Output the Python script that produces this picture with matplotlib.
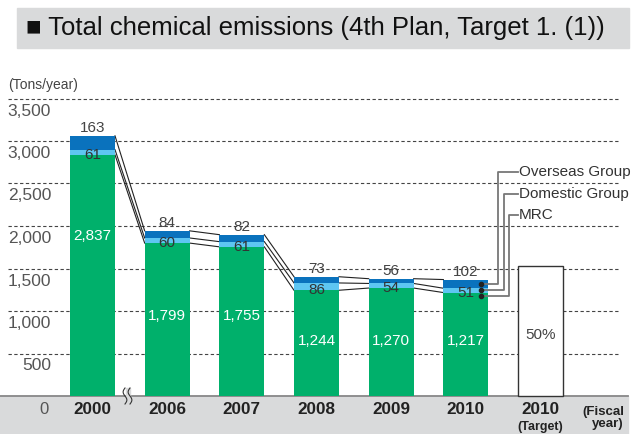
import numpy as np
import matplotlib.pyplot as plt
from matplotlib.patches import Rectangle

plt.rcParams['font.family'] = ['Liberation Sans', 'DejaVu Sans']

# data (tons/year)
years = ["2000", "2006", "2007", "2008", "2009", "2010"]
mrc = [2837, 1799, 1755, 1244, 1270, 1217]
domestic = [61, 60, 61, 86, 54, 51]
overseas = [163, 84, 82, 73, 56, 102]
target_year = "2010"
target_value = 1530
target_text = "50%"
yticks = [500, 1000, 1500, 2000, 2500, 3000, 3500]
series_names = ["Overseas Group", "Domestic Group", "MRC"]

GREEN = "#00b06b"
LBLUE = "#5ec6f2"
BLUE = "#0a72bd"
GRAY = "#d9dadb"

W, H = 633, 434
fig = plt.figure(figsize=(W / 100, H / 100), dpi=100)
ax = fig.add_axes([0, 0, 1, 1])
ax.axis("off")

# pixel layout helpers
x0, step = 92.5, 74.67
zero_px, k = 396, 0.085
ax.set_xlim(-x0 / step, (W - x0) / step)
ax.set_ylim(-(H - zero_px) / k, zero_px / k)


def px2x(p):
    return (p - x0) / step


def px2y(p):
    return (zero_px - p) / k


# title banner
fig.patches.append(Rectangle((17 / W, 1 - 48 / H), 612 / W, 40 / H,
                             transform=fig.transFigure, color=GRAY, zorder=0))
fig.text(26 / W, 1 - 28.5 / H, "\u25a0 Total chemical emissions (4th Plan, Target 1. (1))",
         fontsize=18.5, va="center", ha="left", color="#111")

# grid + y labels
for t in yticks:
    ax.plot([px2x(8), px2x(620)], [t, t], color="#444", lw=0.8,
            dashes=(3, 2.2), zorder=1)
    ax.text(px2x(51), t - 12.5 / k, f"{t:,}", ha="right", va="center",
            fontsize=12.5, color="#555")
ax.text(px2x(49), px2y(410), "0", ha="right", va="center", fontsize=12, color="#555")
ax.text(px2x(8), px2y(85), "(Tons/year)", ha="left", va="center", fontsize=10, color="#444")

# bottom band
ax.add_patch(Rectangle((px2x(0), px2y(H)), 628 / step, (H - zero_px) / k,
                       color=GRAY, zorder=1))
ax.plot([px2x(0), px2x(628)], [0, 0], color="#888", lw=1.3, zorder=2)

# bars
x = np.arange(len(years))
mrc_a = np.array(mrc)
dom_top = mrc_a + np.array(domestic)
tot = dom_top + np.array(overseas)
bw = 45 / step
ax.bar(x, mrc_a, width=bw, color=GREEN, zorder=3)
ax.bar(x, domestic, bottom=mrc_a, width=bw, color=LBLUE, zorder=3)
ax.bar(x, overseas, bottom=dom_top, width=bw, color=BLUE, zorder=3)
ax.bar([len(years)], [target_value], width=bw, facecolor="white",
       edgecolor="#333", lw=1.0, zorder=3)

# connector lines between bars
for b in (mrc_a, dom_top, tot):
    for i in range(len(years) - 1):
        ax.plot([i + bw / 2, i + 1 - bw / 2], [b[i], b[i + 1]],
                color="#222", lw=0.8, zorder=2)

# value labels
mrc_label_y = [1880, 940, 940, 650, 650, 650]
for i in range(len(years)):
    ax.text(i, tot[i] + 1 / k, str(overseas[i]), ha="center", va="bottom",
            fontsize=11, color="#444", zorder=4)
    ax.text(i, mrc_a[i], str(domestic[i]), ha="center", va="center",
            fontsize=11, color="#333", zorder=4)
    ax.text(i, mrc_label_y[i], f"{mrc[i]:,}", ha="center", va="center",
            fontsize=11, color="white", zorder=4)
ax.text(len(years), px2y(335), target_text, ha="center", va="center",
        fontsize=11, color="#444", zorder=4)

# x labels
for i, y in enumerate(years + [target_year]):
    ax.text(i, px2y(410), y, ha="center", va="center", fontsize=12.3,
            fontweight="bold", color="#222")
ax.text(len(years), px2y(427), "(Target)", ha="center", va="center",
        fontsize=9, fontweight="bold", color="#222")
ax.text(px2x(624), px2y(418), "(Fiscal\nyear)", ha="right", va="center",
        fontsize=9.5, fontweight="bold", color="#222", multialignment="right",
        linespacing=1.1)

# axis break mark
yy = np.linspace(px2y(404), px2y(388), 30)
for dx in (125, 130):
    ax.plot(px2x(dx) + 0.025 * np.sin(np.linspace(0, 2 * np.pi, 30)), yy,
            color="#333", lw=0.8, zorder=5)
ax.add_patch(Rectangle((px2x(125.5), px2y(404)), 4 / step, 16 / k,
                       color=GRAY, zorder=4))

# leader lines for series names
last = len(years) - 1
dot_y = [tot[last] - overseas[last] / 2, dom_top[last] - domestic[last] / 2,
         mrc_a[last] - 35]
elbow_x = [498, 504, 509]
text_y = [171.7, 194, 215]
for name, dy, ex, ty in zip(series_names, dot_y, elbow_x, text_y):
    dot_x = last + 15 / step
    ax.plot([dot_x, px2x(ex), px2x(ex), px2x(518)],
            [dy, dy, px2y(ty), px2y(ty)], color="#777", lw=1.3, zorder=5)
    ax.plot(dot_x, dy, "o", color="#222", ms=3, zorder=6)
    ax.text(px2x(519), px2y(ty), name, ha="left", va="center",
            fontsize=11, color="#333")

fig.savefig("out.png", dpi=100)
